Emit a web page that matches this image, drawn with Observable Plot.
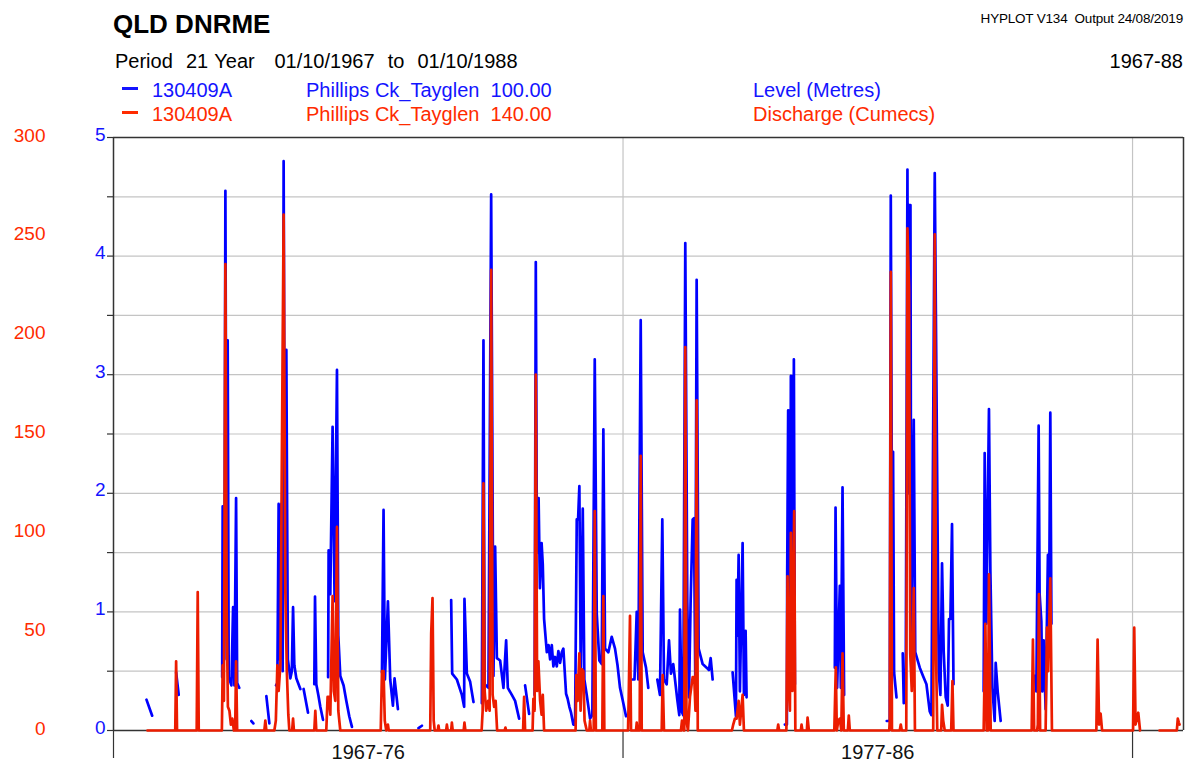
<!DOCTYPE html>
<html><head><meta charset="utf-8">
<script src="https://cdn.jsdelivr.net/npm/d3@7"></script>
<script src="https://cdn.jsdelivr.net/npm/@observablehq/plot@0.6"></script>
<style>
body{margin:0;background:#fff;font-family:"Liberation Sans",Arial,sans-serif;}
#wrap{position:relative;width:1189px;height:762px;overflow:hidden;background:#fff;}
.t{position:absolute;white-space:pre;line-height:1;}
.dash{position:absolute;width:16px;height:3px;}
#chart{position:absolute;left:0;top:130px;}
</style></head><body>
<div id="wrap">
 <div class="t" style="left:113px;top:11px;font-size:26px;font-weight:bold;color:#000">QLD DNRME</div>
 <div class="t" style="right:6px;top:12px;font-size:13.5px;color:#000;letter-spacing:-0.2px">HYPLOT V134  Output 24/08/2019</div>
 <div class="t" style="left:115px;top:51px;font-size:20px;color:#000;word-spacing:1px">Period  21 Year   01/10/1967  to  01/10/1988</div>
 <div class="t" style="right:6px;top:51px;font-size:20px;color:#000">1967-88</div>
 <div class="dash" style="left:122px;top:87px;background:#1414ff"></div>
 <div class="t" style="left:152px;top:80px;font-size:20px;color:#1414ff">130409A</div>
 <div class="t" style="left:306px;top:80px;font-size:20px;color:#1414ff">Phillips Ck_Tayglen  100.00</div>
 <div class="t" style="left:753px;top:80px;font-size:20px;color:#1414ff">Level (Metres)</div>
 <div class="dash" style="left:122px;top:111px;background:#ff2b00"></div>
 <div class="t" style="left:152px;top:104px;font-size:20px;color:#ff2b00">130409A</div>
 <div class="t" style="left:306px;top:104px;font-size:20px;color:#ff2b00">Phillips Ck_Tayglen  140.00</div>
 <div class="t" style="left:753px;top:104px;font-size:20px;color:#ff2b00">Discharge (Cumecs)</div>
 <div id="chart"></div>
</div>
<script>
// ---- data (time in decimal years, level in metres, discharge in cumecs; null = gap in record)
const levelReadings = [
 [1968.397,0.26],[1968.509,0.125],null,
 [1968.979,0.49],[1969.030,0.30],null,
 [1969.883,0.45],[1969.893,1.89],[1969.911,1.85],[1969.926,0.6],[1969.946,4.55],[1969.970,1.2],[1969.991,3.29],[1970.011,0.45],[1970.064,0.38],[1970.097,1.04],[1970.123,0.38],[1970.156,1.96],[1970.177,0.4],[1970.217,0.36],null,
 [1970.456,0.08],[1970.495,0.06],null,
 [1970.750,0.29],[1970.809,0.06],null,
 [1970.940,0.38],[1970.966,0.4],[1970.991,1.91],[1971.015,0.6],[1971.044,1.91],[1971.070,0.5],[1971.089,4.80],[1971.113,1.5],[1971.142,3.21],[1971.172,0.6],[1971.221,0.44],[1971.250,0.5],[1971.274,1.04],[1971.299,0.55],[1971.338,0.44],[1971.417,0.35],null,
 [1971.481,0.35],[1971.568,0.15],null,
 [1971.691,0.39],[1971.705,1.13],[1971.730,0.39],[1971.770,0.3],[1971.809,0.2],[1971.862,0.09],null,
 [1971.962,0.45],[1971.972,1.52],[1972.005,1.15],[1972.050,2.56],[1972.089,1.09],[1972.136,3.04],[1972.162,0.8],[1972.201,0.46],[1972.266,0.38],[1972.319,0.25],[1972.377,0.12],[1972.430,0.03],null,
 [1973.019,0.49],[1973.050,1.86],[1973.077,0.43],[1973.136,1.09],[1973.181,0.43],[1973.234,0.21],[1973.266,0.44],[1973.332,0.18],null,
 [1973.736,0.02],[1973.803,0.04],null,
 [1974.377,1.10],[1974.397,0.48],[1974.489,0.43],[1974.587,0.30],[1974.632,0.2],[1974.638,1.11],[1974.685,0.48],[1974.750,0.41],[1974.815,0.24],null,
 [1974.979,0.23],[1975.011,3.29],[1975.034,0.39],[1975.109,0.36],[1975.162,4.52],[1975.207,0.46],[1975.240,1.55],[1975.274,0.61],[1975.338,0.59],[1975.403,0.36],[1975.456,0.76],[1975.489,0.36],[1975.568,0.30],[1975.632,0.25],[1975.711,0.1],null,
 [1975.828,0.38],[1975.907,0.14],null,
 [1976.015,0.3],[1976.038,3.95],[1976.060,1.5],[1976.093,1.96],[1976.119,1.2],[1976.152,1.58],[1976.175,1.4],[1976.201,0.94],[1976.254,0.66],[1976.289,0.72],[1976.319,0.6],[1976.352,0.72],[1976.383,0.54],[1976.417,0.62],[1976.450,0.54],[1976.481,0.67],[1976.515,0.57],[1976.548,0.66],[1976.579,0.69],[1976.632,0.31],[1976.662,0.27],[1976.697,0.20],[1976.730,0.15],[1976.775,0.05],[1976.809,0.05],[1976.842,1.78],[1976.868,1.78],[1976.893,2.06],[1976.921,0.43],[1976.960,1.87],[1976.991,0.43],[1977.038,0.30],[1977.103,0.10],[1977.148,0.13],[1977.195,3.13],[1977.234,0.99],[1977.285,0.59],[1977.332,0.56],[1977.364,2.54],[1977.397,0.69],[1977.462,0.66],[1977.528,0.79],[1977.593,0.69],[1977.642,0.55],[1977.691,0.36],[1977.756,0.23],[1977.809,0.12],null,
 [1977.932,0.43],[1977.975,0.43],[1978.019,1.0],[1978.050,0.43],[1978.097,3.46],[1978.136,0.66],[1978.201,0.53],[1978.246,0.36],null,
 [1978.423,0.43],[1978.475,0.30],[1978.521,1.78],[1978.554,0.43],[1978.607,0.39],[1978.652,0.76],[1978.691,0.48],[1978.736,0.56],[1978.770,0.43],[1978.815,0.26],[1978.854,0.13],[1978.868,1.02],[1978.901,0.16],[1978.932,0.13],[1978.972,4.11],[1979.011,1.09],[1979.044,0.28],[1979.077,1.09],[1979.117,1.78],[1979.142,1.79],[1979.168,0.46],[1979.195,3.80],[1979.234,0.69],[1979.313,0.56],[1979.391,0.53],[1979.436,0.51],[1979.470,0.61],[1979.509,0.43],null,
 [1979.901,0.49],[1979.966,0.12],[1979.979,1.27],[1979.995,0.8],[1980.019,1.48],[1980.044,0.33],[1980.097,1.58],[1980.123,0.30],[1980.156,0.84],[1980.175,0.28],null,
 [1980.926,0.05],[1980.966,0.05],[1980.972,1.30],[1980.991,2.70],[1981.011,1.0],[1981.025,2.70],[1981.034,1.2],[1981.044,2.99],[1981.064,1.3],[1981.077,2.99],[1981.089,1.5],[1981.103,3.13],[1981.123,0.39],null,
 [1981.907,0.53],[1981.921,1.88],[1981.952,0.36],[1982.005,1.22],[1982.025,0.36],[1982.058,2.05],[1982.089,0.3],null,
 [1982.926,0.08],[1982.985,0.08],[1983.005,4.51],[1983.034,1.0],[1983.050,2.35],[1983.070,0.49],[1983.117,0.28],null,
 [1983.240,0.65],[1983.260,0.23],[1983.299,0.43],[1983.332,4.73],[1983.348,2.0],[1983.364,4.43],[1983.391,4.43],[1983.407,0.69],[1983.456,2.62],[1983.485,0.66],[1983.574,0.53],[1983.638,0.46],[1983.705,0.39],[1983.770,0.16],[1983.803,0.13],[1983.868,4.70],[1983.913,2.28],[1983.946,0.49],[1983.979,0.30],[1984.011,1.41],[1984.044,0.66],[1984.083,0.28],[1984.123,0.21],[1984.148,0.94],[1984.175,0.94],[1984.207,1.74],[1984.236,0.39],null,
 [1984.828,0.33],[1984.848,2.34],[1984.881,0.9],[1984.932,2.71],[1984.960,1.34],[1984.999,0.36],[1985.044,0.08],[1985.064,0.57],[1985.103,0.33],[1985.162,0.08],null,
 [1985.828,0.46],[1985.862,0.33],[1985.907,2.57],[1985.926,1.15],[1985.960,0.92],[1985.979,0.33],[1986.005,0.76],[1986.044,0.18],[1986.089,1.48],[1986.109,0.8],[1986.136,2.68],[1986.158,0.9]
];
const dischargeReadings = [
 [1968.417,0],[1968.962,0],[1968.979,35],[1968.997,0],
 [1969.383,0],[1969.403,70],[1969.423,0],
 [1969.877,0],[1969.893,33],[1969.917,15],[1969.946,236],[1969.972,60],[1969.995,12],[1970.025,10],[1970.054,3],[1970.083,6],[1970.113,0],[1970.138,0],[1970.156,35],[1970.177,0],
 [1970.711,0],[1970.730,5],[1970.750,0],
 [1970.907,0],[1970.936,5],[1970.966,33],[1970.991,20],[1971.025,33],[1971.089,261],[1971.123,70],[1971.152,30],[1971.181,8],[1971.201,0],[1971.256,0],[1971.274,6],[1971.291,0],
 [1971.691,0],[1971.711,10],[1971.730,0],
 [1971.926,0],[1971.952,17],[1971.975,17],[1972.005,8],[1972.050,68],[1972.074,20],[1972.103,15],[1972.136,103],[1972.162,10],[1972.201,0],
 [1972.995,0],[1973.019,30],[1973.050,30],[1973.074,5],[1973.103,0],[1973.136,3],[1973.152,0],
 [1973.966,0],[1973.985,49],[1974.011,67],[1974.034,5],[1974.054,0],[1974.113,0],[1974.128,2.5],[1974.142,0],[1974.279,0],[1974.293,3],[1974.309,0],[1974.377,0],[1974.391,4],[1974.407,0],[1974.623,0],[1974.638,4],[1974.656,0],
 [1974.975,0],[1974.995,10],[1975.011,125],[1975.034,20],[1975.064,10],[1975.103,15],[1975.132,10],[1975.162,233],[1975.191,18],[1975.221,12],[1975.250,15],[1975.279,0],[1975.426,0],[1975.442,1.5],[1975.456,0],
 [1975.789,0],[1975.809,17],[1975.828,0],
 [1975.975,0],[1975.991,16],[1976.015,10],[1976.038,180],[1976.064,20],[1976.089,35],[1976.123,15],[1976.152,8],[1976.175,18],[1976.201,0],
 [1976.819,0],[1976.834,28],[1976.858,15],[1976.893,39],[1976.917,10],[1976.940,31],[1976.972,30],[1976.995,5],[1977.038,0],[1977.089,0],[1977.103,5],[1977.119,0],[1977.175,0],[1977.195,111],[1977.217,0],[1977.344,0],[1977.364,68],[1977.383,0],
 [1977.848,0],[1977.862,17],[1977.887,58],[1977.907,0],[1978.005,0],[1978.019,4],[1978.034,0],[1978.077,0],[1978.097,139],[1978.117,0],
 [1978.509,0],[1978.528,28],[1978.554,0],
 [1978.887,0],[1978.907,5],[1978.936,0],[1978.952,0],[1978.972,194],[1978.995,5],[1979.025,0],[1979.064,17],[1979.117,27],[1979.148,27],[1979.172,10],[1979.195,167],[1979.217,0],
 [1979.887,0],[1979.913,3],[1979.946,6],[1979.979,6],[1980.019,15],[1980.044,3],[1980.097,18],[1980.123,0],
 [1980.779,0],[1980.795,3],[1980.813,0],
 [1980.956,0],[1980.979,78],[1981.005,20],[1981.025,10],[1981.044,100],[1981.074,20],[1981.109,111],[1981.132,0],[1981.240,0],[1981.254,3],[1981.270,0],[1981.358,0],[1981.372,6.5],[1981.397,0],
 [1981.897,0],[1981.926,32],[1981.946,0],[1981.975,5],[1982.005,6],[1982.034,0],[1982.058,39],[1982.083,0],[1982.162,0],[1982.181,7.5],[1982.201,0],
 [1982.975,0],[1982.985,5],[1983.005,232],[1983.028,0],[1983.181,0],[1983.201,3],[1983.221,0],
 [1983.309,0],[1983.332,254],[1983.364,224],[1983.387,39],[1983.417,20],[1983.456,72],[1983.479,0],
 [1983.838,0],[1983.868,251],[1983.893,40],[1983.917,0],[1983.995,0],[1984.011,13],[1984.034,5],[1984.064,0],[1984.191,0],[1984.215,25],[1984.236,0],
 [1984.828,0],[1984.862,54],[1984.887,0],[1984.913,0],[1984.932,79],[1984.966,0],
 [1985.770,0],[1985.795,46],[1985.819,0],[1985.877,0],[1985.891,3],[1985.913,69],[1985.936,0],[1986.044,0],[1986.070,52],[1986.093,30],[1986.136,77],[1986.168,0],
 [1987.040,0],[1987.064,46],[1987.093,3],[1987.123,8.5],[1987.152,0],
 [1987.760,0],[1987.783,52],[1987.809,3],[1987.862,9],[1987.897,0],null,
 [1988.279,0],[1988.619,0],[1988.638,6],[1988.658,4],[1988.672,3]
];
const periodStart = 1967.75, periodEnd = 1988.75;       // 01/10/1967 to 01/10/1988
const decadeTicks = [1967.75, 1977.75, 1987.75];
const periodCentres = [1972.75, 1982.75];
const periodLabels = ["1967-76", "1977-86"];
const levelTicks = [0, 0.5, 1, 1.5, 2, 2.5, 3, 3.5, 4, 4.5, 5];
const levelLabels = [0, 1, 2, 3, 4, 5];
const levelGrid = [0.5, 1, 1.5, 2, 2.5, 3, 3.5, 4, 4.5];
const dischargeTicks = [0, 50, 100, 150, 200, 250, 300];
const levelMax = 5, dischargeMax = 300;                  // both axes share the frame
const toLevel = q => q * levelMax / dischargeMax;

const BLUE = "#0000ff", RED = "#ec1c00", BLUE_TXT = "#1414ff", RED_TXT = "#ff2b00", FRAME = "#333";

const levelData = levelReadings.map(d => d ? {t: d[0], v: d[1]} : {t: NaN, v: NaN});
const dischargeData = dischargeReadings.map(d => d ? {t: d[0], v: toLevel(d[1])} : {t: NaN, v: NaN});
const dischargePositions = dischargeTicks.map(toLevel);

const chart = Plot.plot({
  width: 1189, height: 632,
  marginTop: 7, marginBottom: 32, marginLeft: 113, marginRight: 6,
  x: {type: "linear", domain: [periodStart, periodEnd], label: null},
  y: {type: "linear", domain: [0, levelMax], label: null},
  style: {fontFamily: "'Liberation Sans', Arial, sans-serif", fontSize: "19px", background: "white", overflow: "visible"},
  marks: [
    Plot.ruleY(levelGrid, {stroke: "#c4c4c4", strokeWidth: 1.2}),
    Plot.ruleX(decadeTicks.slice(1), {stroke: "#c4c4c4", strokeWidth: 1.2}),
    Plot.ruleY([levelMax], {stroke: FRAME, strokeWidth: 1.5}),
    Plot.ruleX([periodEnd], {stroke: FRAME, strokeWidth: 1.5}),
    Plot.ruleX([periodStart], {stroke: FRAME, strokeWidth: 1.5}),
    Plot.ruleY([0], {stroke: FRAME, strokeWidth: 1.5}),
    Plot.axisX(decadeTicks, {tickSize: 28, tickFormat: () => "", label: null, stroke: FRAME, strokeWidth: 1.2}),
    Plot.axisX(periodCentres, {tickSize: 0, tickPadding: 14, fontSize: 20, fill: "#111", label: null,
      tickFormat: d => periodLabels[periodCentres.indexOf(d)]}),
    Plot.axisY(levelTicks, {tickSize: 6, tickFormat: () => "", label: null, stroke: FRAME, strokeWidth: 1.2}),
    Plot.axisY(levelLabels, {tickSize: 0, tickPadding: 8, fill: BLUE_TXT, dy: -3, fontSize: 19, label: null,
      tickFormat: d => String(d)}),
    Plot.axisY(dischargePositions, {tickSize: 0, tickPadding: 68, fill: RED_TXT, dy: -2, fontSize: 19, label: null,
      tickFormat: d => String(dischargeTicks[dischargePositions.indexOf(d)])}),
    Plot.line(levelData, {x: "t", y: "v", stroke: BLUE, strokeWidth: 2.7}),
    Plot.line(dischargeData, {x: "t", y: "v", stroke: RED, strokeWidth: 2.7})
  ]
});
document.getElementById("chart").appendChild(chart);
</script>
</body></html>
